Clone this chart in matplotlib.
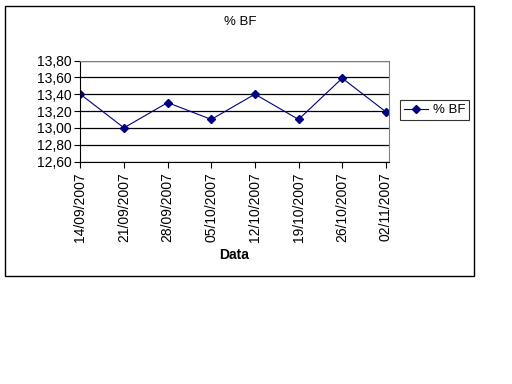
import matplotlib
matplotlib.use("Agg")
import matplotlib.pyplot as plt
import matplotlib.dates as mdates
from matplotlib.patches import Rectangle
from matplotlib.ticker import FuncFormatter
from datetime import datetime, timedelta

dates = ["14/09/2007", "21/09/2007", "28/09/2007", "05/10/2007",
         "12/10/2007", "19/10/2007", "26/10/2007", "02/11/2007"]
bf = [13.40, 13.00, 13.30, 13.10, 13.40, 13.10, 13.59, 13.19]
yticks = [12.60, 12.80, 13.00, 13.20, 13.40, 13.60, 13.80]
title = "% BF"
xlabel = "Data"
series_name = "% BF"

plt.rcParams['font.family'] = ['Liberation Sans', 'DejaVu Sans']

W, H = 512, 384
fig = plt.figure(figsize=(W / 100, H / 100), dpi=100)
fig.patch.set_facecolor("white")

# outer chart border
fig.patches.append(Rectangle((5 / W, 1 - 275.5 / H), 469 / W, 270 / H,
                             transform=fig.transFigure, fill=False,
                             edgecolor="black", linewidth=1.0))

x0, x1, y0, y1 = 80, 389, 60.5, 161.5
ax = fig.add_axes([x0 / W, 1 - y1 / H, (x1 - x0) / W, (y1 - y0) / H])

dt = [datetime.strptime(d, "%d/%m/%Y") for d in dates]
ax.plot(dt, bf, color="#000080", linewidth=0.8, marker="D", markersize=4,
        markerfacecolor="#000080", markeredgecolor="#000080", label=series_name)

ax.set_xlim(dt[0] - timedelta(days=0.05), dt[-1] + timedelta(days=0.5))
ax.set_xticks(dt)
ax.xaxis.set_major_formatter(mdates.DateFormatter("%d/%m/%Y"))
ax.set_ylim(yticks[0], yticks[-1])
ax.set_yticks(yticks)
ax.yaxis.set_major_formatter(FuncFormatter(lambda v, p: f"{v:.2f}".replace(".", ",")))

ax.grid(axis="y", color="black", linewidth=0.9)
ax.set_axisbelow(True)
for s in ["top", "right"]:
    ax.spines[s].set_color("#808080")
for s in ["left", "bottom"]:
    ax.spines[s].set_color("black")
ax.tick_params(axis="x", direction="out", length=4, width=0.8, labelsize=10,
               labelrotation=90, pad=4, colors="black")
ax.tick_params(axis="y", direction="out", length=4, width=0.8, labelsize=10,
               pad=2, colors="black")

ax.set_xlabel(xlabel, fontsize=10, fontweight="bold", labelpad=4)
fig.text(240 / W, 1 - 22 / H, title, ha="center", va="center", fontsize=9.5)

leg = fig.legend(loc="center left", bbox_to_anchor=(400 / W, 1 - 110 / H),
                 fontsize=9.5, frameon=True, fancybox=False, handlelength=1.8,
                 borderpad=0.3, handletextpad=0.4, borderaxespad=0,
                 markerscale=1.0)
leg.get_frame().set_edgecolor("black")
leg.get_frame().set_linewidth(0.8)

fig.savefig("out.png", dpi=100, facecolor="white")
